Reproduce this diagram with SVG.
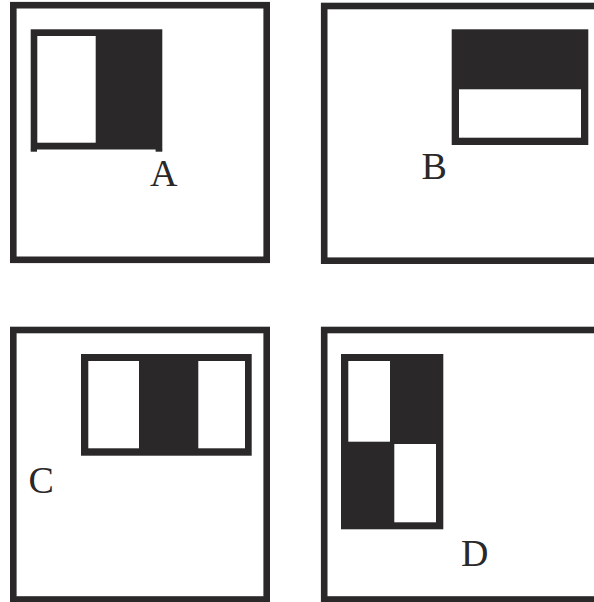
<svg xmlns="http://www.w3.org/2000/svg" width="594" height="602" viewBox="0 0 594 602">
<style>
.frame{fill:none;stroke:#2a2829;stroke-width:6.6}
.dark{fill:#2a2829}
.light{fill:#ffffff}
.lbl{font-family:"Liberation Serif","Times New Roman",serif;font-size:38px;fill:#2a2829}
</style>
<rect x="0" y="0" width="594" height="602" fill="#ffffff"/>
<g id="panelA">
<rect class="frame" x="13.3" y="5.2" width="253.4" height="254.6"/>
<rect class="dark" x="30.7" y="29.3" width="131.6" height="120.2"/>
<rect class="light" x="37.3" y="36" width="58.4" height="106.7"/>
<rect class="dark" x="30.7" y="149" width="6.3" height="2.7"/>
<rect class="dark" x="155.6" y="149" width="6.7" height="2.7"/>
<text class="lbl" x="150" y="186">A</text>
</g>
<g id="panelB">
<rect class="frame" x="324.2" y="6" width="290" height="254.7"/>
<rect class="dark" x="451.7" y="29.3" width="136.6" height="115.7"/>
<rect class="light" x="459" y="89.3" width="122" height="48.4"/>
<text class="lbl" x="421.5" y="179">B</text>
</g>
<g id="panelC">
<rect class="frame" x="13.3" y="330" width="253.4" height="269.5"/>
<rect class="dark" x="81" y="354" width="170.7" height="101.7"/>
<rect class="light" x="88.3" y="361" width="50.7" height="87.3"/>
<rect class="light" x="198.3" y="361" width="46.7" height="87.3"/>
<text class="lbl" x="28.5" y="492.5">C</text>
</g>
<g id="panelD">
<rect class="frame" x="324.2" y="330" width="290" height="269.5"/>
<rect class="dark" x="341" y="354" width="102.3" height="175.3"/>
<rect class="light" x="348.3" y="361" width="41.7" height="80.7"/>
<rect class="light" x="394.3" y="444" width="41.7" height="78.3"/>
<text class="lbl" x="461" y="566">D</text>
</g>
</svg>
